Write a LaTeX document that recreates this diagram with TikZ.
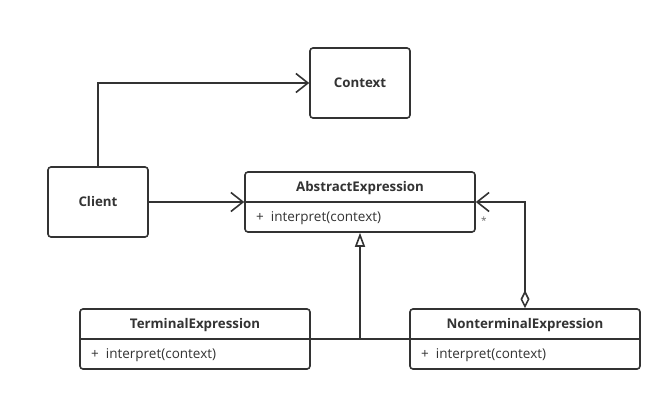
\documentclass[tikz,border=0pt]{standalone}
\usepackage{fontspec}
\setmainfont{Open Sans}
\usetikzlibrary{arrows.meta}
\definecolor{linec}{HTML}{333333}

\begin{document}
\begin{tikzpicture}[x=1pt,y=-1pt, every node/.style={font=\fontsize{13.5pt}{15pt}\selectfont,text=linec},
  box/.style={draw=linec,line width=1.6pt,rounded corners=3pt,minimum width=100pt,minimum height=70pt,inner sep=0pt},
  cls/.style={draw=linec,line width=1.6pt,rounded corners=3pt,minimum width=230pt,minimum height=60pt,inner sep=0pt},
  title/.style={font=\fontsize{13.3pt}{15pt}\selectfont\bfseries},
  op/.style={anchor=west,inner sep=0pt},
  link/.style={draw=linec,line width=1.6pt},
  barb/.style={-{Straight Barb[length=12pt,width=19pt]}}]
  \useasboundingbox[fill=white] (0,0) rectangle (672,401);
  % plain boxes
  \node[box,title] (context) at (360,83) {Context};
  \node[box,title] (client) at (98,202) {Client};
  % class boxes
  \node[cls] (abs) at (360,202) {};
  \draw[link] (abs.west) -- (abs.east);
  \node[title] (absname) at (360,188.5) {AbstractExpression};
  \node[op] (absop) at (256,218) {+\hspace{7pt}interpret(context)};
  \node[cls] (term) at (195,339) {};
  \draw[link] (term.west) -- (term.east);
  \node[title] (termname) at (195,325.5) {TerminalExpression};
  \node[op] (termop) at (91,355) {+\hspace{7pt}interpret(context)};
  \node[cls] (nonterm) at (525,339) {};
  \draw[link] (nonterm.west) -- (nonterm.east);
  \node[title] (nontermname) at (525,325.5) {NonterminalExpression};
  \node[op] (nontermop) at (421,355) {+\hspace{7pt}interpret(context)};
  % connectors
  \draw[link,barb] (client.north) |- (context.west);
  \draw[link,barb] (client.east) -- (abs.west);
  \draw[link] (term.east) -- (nonterm.west);
  \draw[link,-{Triangle[open,length=14pt,width=10pt,fill=white]}] (term.east -| abs.south) -- (abs.south);
  \draw[link,{Diamond[open,length=18pt,width=9pt,fill=white]}-{Straight Barb[length=12pt,width=19pt]}] (nonterm.north) |- (abs.east);
  \node[font=\fontsize{10pt}{11pt}\selectfont,text=gray!80!black] (many) at (484,221) {*};
\end{tikzpicture}
\end{document}
